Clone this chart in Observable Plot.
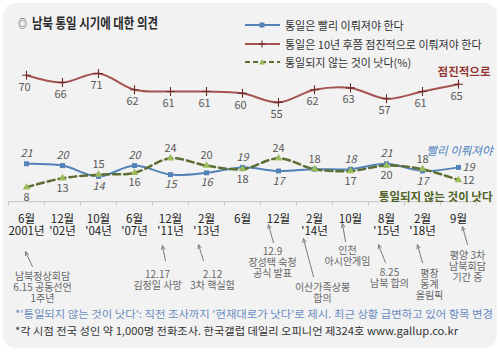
<!DOCTYPE html>
<html><head><meta charset="utf-8">
<script src="https://cdn.jsdelivr.net/npm/d3@7"></script>
<script src="https://cdn.jsdelivr.net/npm/@observablehq/plot@0.6"></script>
<style>
body{margin:0;background:#fff;font-family:"Noto Sans CJK KR","Noto Sans",sans-serif;}
#wrap{position:relative;width:498px;height:356px;overflow:hidden;background:#fff;}
#panel{position:absolute;left:3px;top:3px;width:494px;height:345px;background:#f2f2f2;border-radius:13px;}
#chart{position:absolute;left:0;top:0}
.txt{position:absolute;white-space:nowrap;transform-origin:left center;line-height:1}
#title{left:18px;top:15px;font-size:14px;font-weight:bold;color:#2b2b2b}
#legend{position:absolute;left:245px;top:16px;font-size:11px;color:#333}
.lg{display:flex;align-items:center;height:18.5px}
.lg svg{margin-right:5px}
#fn1{left:15px;top:309px;font-size:10.5px;color:#6a8cc0}
#fn2{left:15px;top:326px;font-size:10.5px;color:#333}
</style></head>
<body><div id="wrap"><div id="panel"></div><div id="chart"></div>
<div class="txt" id="title"></div><div id="legend"></div>
<div class="txt" id="fn1"></div><div class="txt" id="fn2"></div></div>
<script>
// ---- data ----
const months = ["6월","12월","10월","6월","12월","2월","6월","12월","2월","10월","8월","2월","9월"];
const years  = ["2001년","'02년","'04년","'07년","'11년","'13년","","","'14년","","'15년","'18년",""];
const gradual = [70,66,71,62,61,61,60,55,62,63,57,61,65];
const soon    = [21,20,14,20,15,16,19,17,18,18,21,17,19];
const never   = [8,13,15,16,24,20,18,24,18,17,20,18,12];
const seriesNames = ["통일은 빨리 이뤄져야 한다","통일은 10년 후쯤 점진적으로 이뤄져야 한다","통일되지 않는 것이 낫다(%)"];
const seriesTags = ["빨리 이뤄져야","점진적으로","통일되지 않는 것이 낫다"];
const annotations = [
  {at:0,  text:"남북정상회담\n6.15 공동선언\n1주년"},
  {at:4,  text:"12.17\n김정일 사망"},
  {at:5,  text:"2.12\n3차 핵실험"},
  {at:7,  text:"12.9\n장성택 숙청\n공식 발표"},
  {at:8,  text:"이산가족상봉\n합의"},
  {at:9,  text:"인천\n아시안게임"},
  {at:10, text:"8.25\n남북 합의"},
  {at:11, text:"평창\n동계\n올림픽"},
  {at:12, text:"평양 3차\n남북회담\n기간 중"}
];
const titleText = "남북 통일 시기에 대한 의견";
const note1 = "*'통일되지 않는 것이 낫다': 직전 조사까지 '현재대로가 낫다'로 제시. 최근 상황 급변하고 있어 항목 변경";
const note2 = "*각 시점 전국 성인 약 1,000명 전화조사. 한국갤럽 데일리 오피니언 제324호 www.gallup.co.kr";

// ---- layout / style ----
const colors = {soon:"#5282b8", gradual:"#a65452", never:"#5c6e34", tri:"#9bbb59", plus:"#6e2c2a"};
const W=498, H=356, mL=8, mR=22, mT=20.6, mB=154.8;
const pxX = (W-mL-mR)/13, pxY = (H-mT-mB)/100;
const ux = px => px/pxX, uy = px => -px/pxY;
// annotation layout: text offset (tx, ty: first-line centre), arrow tip and tail offsets, in px from category/axis
const annLayout = [
  {tx:16, ty:74, tip:[-1,50], tail:[6,65]},
  {tx:-13,ty:72, tip:[-8,44], tail:[-5,59]},
  {tx:6,  ty:72, tip:[-8,43], tail:[-3,59]},
  {tx:-6, ty:49, tip:[-10,23],tail:[-5,41]},
  {tx:8,  ty:85, tip:[-11,37],tail:[-1,75]},
  {tx:-3, ty:48, tip:[-8,22], tail:[-5,40]},
  {tx:3,  ty:70, tip:[-8,43], tail:[-1,61]},
  {tx:7,  ty:71, tip:[-5,43], tail:[0,61]},
  {tx:9,  ty:53, tip:[4,25],  tail:[9,43]}
];
const soonPos  = ["a","a","b","a","b","b","a","b",null,"a","a","b","r"];
const neverPos = ["b","b","a","b","a","a","b","a","a","b","b","a","r"];

const idx = d3.range(months.length);
const labelFont = 11;
function valueLabels(vals, pos, extra) {
  const sel = p => idx.filter(i => pos[i] === p);
  const base = {x:i=>i, y:i=>vals[i], text:i=>String(vals[i]), fontSize:labelFont, fill:"#595959", ...extra};
  return [
    Plot.text(sel("a"), {...base, dy:-10}),
    Plot.text(sel("b"), {...base, dy:10}),
    Plot.text(sel("r"), {...base, dx:4, textAnchor:"start"})
  ];
}

const annMarks = annotations.flatMap((a, k) => {
  const L = annLayout[k];
  return [
    Plot.arrow([a], {x1:d=>d.at+ux(L.tail[0]), y1:uy(L.tail[1]), x2:d=>d.at+ux(L.tip[0]), y2:uy(L.tip[1]),
      stroke:"#7a7a7a", strokeWidth:1, headLength:6, headAngle:50}),
    Plot.text([a], {x:d=>d.at+ux(L.tx), y:0, text:d=>d.text, dy:L.ty-4, lineAnchor:"top", lineHeight:1.12,
      fontSize:10, fill:"#666"})
  ];
});

const last = months.length-1;
const chart = Plot.plot({
  width:W, height:H, marginLeft:mL, marginRight:mR, marginTop:mT, marginBottom:mB,
  x:{type:"linear", domain:[-0.5,12.5], axis:null},
  y:{domain:[0,100], axis:null},
  style:{background:"transparent", fontFamily:"'Noto Sans CJK KR', sans-serif", overflow:"visible"},
  marks:[
    Plot.ruleY([0], {stroke:"#c4c4c4"}),
    Plot.ruleX(d3.range(months.length+1).map(i=>i-0.5), {y1:0, y2:uy(4), stroke:"#c4c4c4"}),
    Plot.line(idx, {x:i=>i, y:i=>gradual[i], curve:"catmull-rom", stroke:colors.gradual, strokeWidth:2}),
    Plot.line(idx, {x:i=>i, y:i=>soon[i], curve:"catmull-rom", stroke:colors.soon, strokeWidth:2}),
    Plot.line(idx, {x:i=>i, y:i=>never[i], curve:"catmull-rom", stroke:colors.never, strokeWidth:2.5, strokeDasharray:"7,4"}),
    Plot.dot(idx, {x:i=>i, y:i=>gradual[i], symbol:"plus", stroke:colors.plus, strokeWidth:1.1, r:3}),
    Plot.dot(idx, {x:i=>i, y:i=>soon[i], symbol:"square", fill:colors.soon, r:2.8}),
    Plot.dot(idx, {x:i=>i, y:i=>never[i], symbol:"triangle", fill:colors.tri, r:2.8}),
    Plot.text(idx, {x:i=>i, y:i=>gradual[i], text:i=>String(gradual[i]), dy:12, dx:-2, fontSize:labelFont, fill:"#595959"}),
    ...valueLabels(soon, soonPos, {fontStyle:"italic"}),
    ...valueLabels(never, neverPos, {}),
    Plot.text([last], {x:i=>i, y:i=>gradual[i], text:()=>seriesTags[1], textAnchor:"end", dx:32, dy:-12, fontSize:11.5, fontWeight:"bold", fill:"#953735"}),
    Plot.text([last], {x:i=>i, y:i=>soon[i], text:()=>seriesTags[0], textAnchor:"end", dx:34, dy:-16, fontSize:11.5, fontStyle:"italic", fill:"#4f7fc0"}),
    Plot.text([last], {x:i=>i, y:i=>never[i], text:()=>seriesTags[2], textAnchor:"end", dx:34, dy:17, fontSize:11.5, fontWeight:"bold", fill:"#4f6228"}),
    Plot.text(idx, {x:i=>i, y:0, text:i=>months[i], dy:18, fontSize:11.5, fill:"#222"}),
    Plot.text(idx, {x:i=>i, y:0, text:i=>years[i], dy:30, fontSize:11.5, fill:"#222"}),
    ...annMarks
  ]
});
document.getElementById("chart").appendChild(chart);

// ---- title, legend, notes ----
function fit(el, target){ const w = el.getBoundingClientRect().width; el.style.transform = `scaleX(${target/w})`; }
const t = document.getElementById("title");
t.innerHTML = `<span style="font-weight:normal;font-size:11px;margin-right:6px">◎</span>` + titleText;
fit(t, 140);
const lgItems = [
  {name:seriesNames[0], color:colors.soon, dash:null, mk:`<rect x="14.5" y="2.5" width="5" height="5" fill="${colors.soon}"/>`},
  {name:seriesNames[1], color:colors.gradual, dash:null, mk:`<path d="M17 1.5v7M13.5 5h7" stroke="${colors.plus}" stroke-width="1.1"/>`},
  {name:seriesNames[2], color:colors.never, dash:"5,3", mk:`<path d="M17 2L20 7.5H14Z" fill="${colors.tri}"/>`}
];
document.getElementById("legend").innerHTML = lgItems.map(d =>
  `<div class="lg"><svg width="35" height="10"><line x1="0" x2="35" y1="5" y2="5" stroke="${d.color}" stroke-width="2" ${d.dash?`stroke-dasharray="${d.dash}"`:""}/>${d.mk}</svg><span>${d.name}</span></div>`).join("");
const f1 = document.getElementById("fn1"); f1.textContent = note1; fit(f1, 478);
const f2 = document.getElementById("fn2"); f2.textContent = note2; fit(f2, 443);
</script></body></html>
